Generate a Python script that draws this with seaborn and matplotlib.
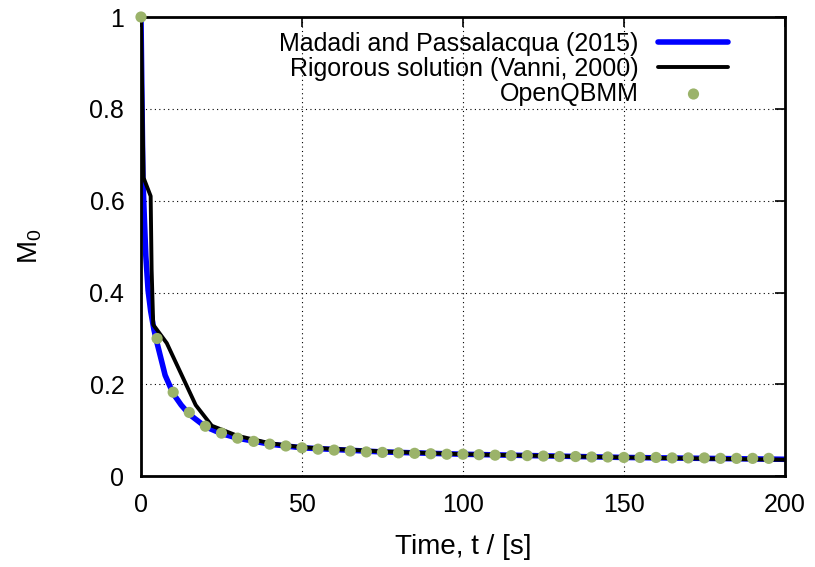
import numpy as np
import pandas as pd
import matplotlib
matplotlib.use("Agg")
import matplotlib.pyplot as plt
import seaborn as sns

# Madadi and Passalacqua (2015)
t_madadi = [0, 0.3, 0.6, 1, 1.5, 2.2, 3, 4, 5, 7.5, 10, 12.5, 15, 20, 25, 30, 40,
            50, 75, 100, 150, 200]
m_madadi = [1.0, 0.82, 0.65, 0.57, 0.48, 0.405, 0.36, 0.32, 0.29, 0.22, 0.18, 0.155,
            0.135, 0.108, 0.093, 0.083, 0.070, 0.062, 0.053, 0.048, 0.041, 0.037]

# Rigorous solution (Vanni, 2000)
t_vanni = [0, 0.8, 3.0, 3.3, 3.8, 8, 17, 22, 30, 40, 50, 75, 100, 150, 200]
m_vanni = [1.0, 0.65, 0.61, 0.45, 0.33, 0.29, 0.155, 0.11, 0.088, 0.072, 0.063,
           0.054, 0.048, 0.041, 0.036]

# OpenQBMM
t_qbmm = list(range(0, 200, 5))
m_qbmm = [1.0, 0.30, 0.183, 0.139, 0.109, 0.094, 0.083, 0.076, 0.070, 0.066,
          0.062, 0.059, 0.057, 0.055, 0.053, 0.052, 0.051, 0.050, 0.049, 0.048,
          0.048, 0.047, 0.046, 0.045, 0.045, 0.044, 0.043, 0.043, 0.042, 0.042,
          0.041, 0.041, 0.041, 0.040, 0.040, 0.040, 0.039, 0.039, 0.039, 0.039]

sns.set_style("white")
plt.rcParams["font.family"] = ["Liberation Sans", "DejaVu Sans"]
plt.rcParams["mathtext.fontset"] = "custom"
plt.rcParams["mathtext.rm"] = "Liberation Sans"
plt.rcParams["mathtext.it"] = "Liberation Sans"
plt.rcParams["text.color"] = "black"
plt.rcParams["axes.labelcolor"] = "black"

fig = plt.figure(figsize=(8.15, 5.67), dpi=100)
ax = fig.add_axes([0.173, 0.160, 0.790, 0.810])

df_m = pd.DataFrame({"t": t_madadi, "M0": m_madadi})
df_v = pd.DataFrame({"t": t_vanni, "M0": m_vanni})
df_q = pd.DataFrame({"t": t_qbmm, "M0": m_qbmm})

sns.lineplot(data=df_m, x="t", y="M0", ax=ax, color="#0000ff", linewidth=4,
             label="Madadi and Passalacqua (2015)")
sns.lineplot(data=df_v, x="t", y="M0", ax=ax, color="black", linewidth=2.8,
             label="Rigorous solution (Vanni, 2000)")
sns.scatterplot(data=df_q, x="t", y="M0", ax=ax, color="#9bb36a", s=65,
                edgecolor="none", label="OpenQBMM", zorder=5, clip_on=False)

ax.set_xlim(0, 200)
ax.set_ylim(0, 1)
ax.set_xticks([0, 50, 100, 150, 200])
ax.set_yticks([0, 0.2, 0.4, 0.6, 0.8, 1.0])
ax.set_yticklabels(["0", "0.2", "0.4", "0.6", "0.8", "1"])
ax.tick_params(direction="in", length=7, width=1.2, top=True, right=True,
               labelsize=18, pad=12, colors="black")
ax.grid(True, color="black", linestyle=(0, (1, 3)), linewidth=0.8)
for s in ax.spines.values():
    s.set_linewidth(2)
    s.set_color("black")

ax.set_xlabel("Time, t / [s]", fontsize=20, labelpad=12)
ax.set_ylabel("M$_0$", fontsize=20)
ax.yaxis.set_label_coords(-0.150, 0.5)

ax.legend(loc="upper right", bbox_to_anchor=(0.928, 0.989), frameon=False,
          markerfirst=False, fontsize=18, handlelength=2.8, labelspacing=0.03,
          borderaxespad=0.0, handletextpad=0.8)

fig.savefig("out.png", dpi=100)
